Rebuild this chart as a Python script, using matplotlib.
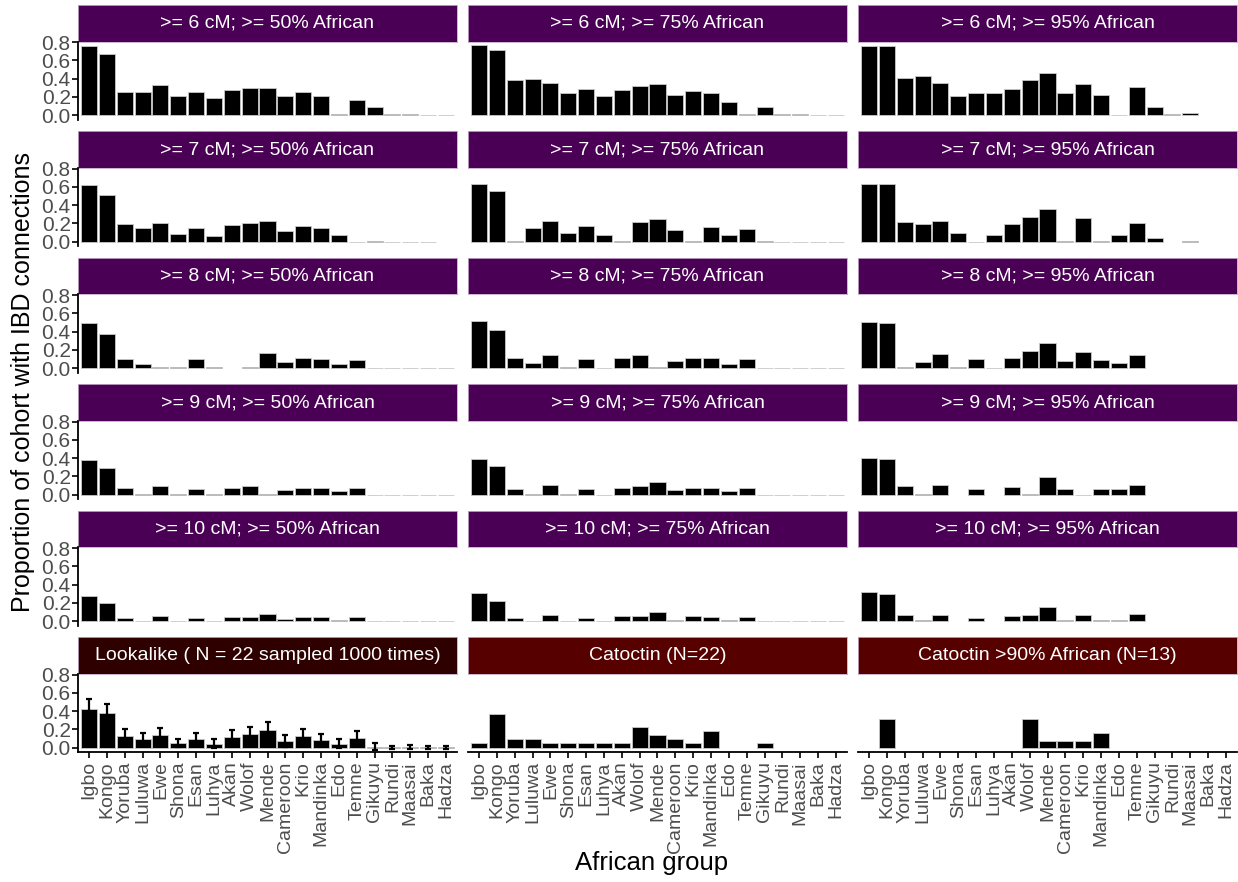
import numpy as np
import matplotlib
matplotlib.use('Agg')
import matplotlib.pyplot as plt

plt.rcParams['font.family'] = ['Liberation Sans', 'DejaVu Sans']

nan = np.nan
groups = ['Igbo', 'Kongo', 'Yoruba', 'Luluwa', 'Ewe', 'Shona', 'Esan', 'Luhya', 'Akan', 'Wolof',
          'Mende', 'Cameroon', 'Krio', 'Mandinka', 'Edo', 'Temne', 'Gikuyu', 'Rundi', 'Maasai',
          'Baka', 'Hadza']

# proportion of cohort with IBD connections, one list per facet
cm6_50 = [0.76, 0.67, 0.25, 0.25, 0.33, 0.21, 0.25, 0.19, 0.28, 0.30, 0.30, 0.21, 0.25, 0.21, 0.01, 0.17, 0.085, 0.01, 0.01, 0, 0]
cm6_75 = [0.77, 0.71, 0.39, 0.40, 0.35, 0.24, 0.29, 0.21, 0.28, 0.32, 0.34, 0.22, 0.27, 0.24, 0.14, 0.01, 0.09, 0.01, 0.01, 0, 0]
cm6_95 = [0.76, 0.76, 0.405, 0.43, 0.35, 0.21, 0.24, 0.24, 0.29, 0.39, 0.46, 0.24, 0.34, 0.22, 0.005, 0.31, 0.09, 0.01, 0.02, nan, nan]
cm7_50 = [0.62, 0.51, 0.19, 0.15, 0.21, 0.085, 0.155, 0.063, 0.18, 0.20, 0.225, 0.12, 0.17, 0.145, 0.074, 0, 0.01, 0, 0, 0, nan]
cm7_75 = [0.635, 0.56, 0.01, 0.145, 0.23, 0.09, 0.17, 0.07, 0.01, 0.215, 0.245, 0.125, 0.005, 0.16, 0.077, 0.14, 0.01, 0, 0, 0, 0]
cm7_95 = [0.635, 0.63, 0.22, 0.19, 0.23, 0.09, 0, 0.074, 0.19, 0.27, 0.355, 0.005, 0.26, 0.005, 0.077, 0.20, 0.04, nan, 0.01, nan, nan]
cm8_50 = [0.49, 0.37, 0.105, 0.048, 0.01, 0.01, 0.095, 0.01, nan, 0.01, 0.165, 0.066, 0.115, 0.095, 0.044, 0.09, 0.005, 0, 0, 0, 0]
cm8_75 = [0.515, 0.42, 0.11, 0.052, 0.145, 0.01, 0.10, 0, 0.11, 0.14, 0.01, 0.074, 0.11, 0.11, 0.048, 0.10, 0.005, 0, 0, 0, 0]
cm8_95 = [0.505, 0.50, 0.01, 0.066, 0.16, 0.01, 0.095, 0.005, 0.115, 0.185, 0.28, 0.08, 0.175, 0.085, 0.052, 0.145, nan, nan, nan, nan, nan]
cm9_50 = [0.38, 0.29, 0.07, 0.01, 0.095, 0.01, 0.06, 0.005, 0.077, 0.09, 0.005, 0.052, 0.074, 0.074, 0.04, 0.07, 0, 0, 0, 0, 0]
cm9_75 = [0.39, 0.31, 0.066, 0.01, 0.10, 0.005, 0.066, 0, 0.074, 0.09, 0.135, 0.052, 0.074, 0.074, 0.037, 0.074, 0, 0, 0, 0, 0]
cm9_95 = [0.40, 0.39, 0.09, 0.01, 0.10, nan, 0.066, nan, 0.085, 0.01, 0.19, 0.06, 0, 0.063, 0.063, 0.11, nan, nan, nan, nan, nan]
cm10_50 = [0.27, 0.20, 0.033, 0, 0.06, 0, 0.037, 0, 0.04, 0.04, 0.08, 0.026, 0.04, 0.04, 0.015, 0.04, 0, 0, 0, 0, 0]
cm10_75 = [0.31, 0.225, 0.033, 0, 0.066, 0, 0.037, 0, 0.06, 0.06, 0.10, 0.015, 0.06, 0.044, 0.01, 0.048, 0, 0, 0, 0, 0]
cm10_95 = [0.317, 0.30, 0.063, 0.01, 0.07, nan, 0.037, nan, 0.055, 0.07, 0.15, 0.015, 0.07, 0.015, 0.01, 0.074, nan, nan, nan, nan, nan]

lookalike_mean = [0.424, 0.373, 0.13, 0.092, 0.137, 0.048, 0.092, 0.044, 0.11, 0.144, 0.188, 0.074, 0.122, 0.085, 0.044, 0.103, 0.011, 0.003, 0.005, 0.002, 0.002]
lookalike_sd = [0.111, 0.107, 0.077, 0.063, 0.077, 0.044, 0.067, 0.048, 0.08, 0.081, 0.089, 0.063, 0.085, 0.066, 0.052, 0.074, 0.037, 0.017, 0.021, 0.016, 0.013]
catoctin = [0.045, 0.364, 0.091, 0.091, 0.045, 0.045, 0.045, 0.045, 0.045, 0.227, 0.136, 0.091, 0.045, 0.182, nan, nan, 0.045, nan, nan, nan, nan]
catoctin90 = [nan, 0.308, nan, nan, nan, nan, nan, nan, nan, 0.308, 0.077, 0.077, 0.077, 0.154, nan, nan, nan, nan, nan, nan, nan]

panels = [
    ('>= 6 cM; >= 50% African', cm6_50), ('>= 6 cM; >= 75% African', cm6_75), ('>= 6 cM; >= 95% African', cm6_95),
    ('>= 7 cM; >= 50% African', cm7_50), ('>= 7 cM; >= 75% African', cm7_75), ('>= 7 cM; >= 95% African', cm7_95),
    ('>= 8 cM; >= 50% African', cm8_50), ('>= 8 cM; >= 75% African', cm8_75), ('>= 8 cM; >= 95% African', cm8_95),
    ('>= 9 cM; >= 50% African', cm9_50), ('>= 9 cM; >= 75% African', cm9_75), ('>= 9 cM; >= 95% African', cm9_95),
    ('>= 10 cM; >= 50% African', cm10_50), ('>= 10 cM; >= 75% African', cm10_75), ('>= 10 cM; >= 95% African', cm10_95),
    ('Lookalike ( N = 22 sampled 1000 times)', lookalike_mean), ('Catoctin (N=22)', catoctin),
    ('Catoctin >90% African (N=13)', catoctin90),
]
strip_colors = ['#4a0055'] * 15 + ['#2e0000', '#560000', '#560000']

W, H = 1238, 882
fig = plt.figure(figsize=(W / 100, H / 100), dpi=100)

col_left = [78.3, 468.3, 858.3]
pw = 378.4
strip_h = 36.5
panel_h = 78.3
row_step = 126.46
x = np.arange(1, len(groups) + 1)
grey = '#4d4d4d'

for i, (title, vals) in enumerate(panels):
    r, c = divmod(i, 3)
    top = 5 + r * row_step
    left = col_left[c]
    # strip
    sax = fig.add_axes([left / W, 1 - (top + strip_h) / H, pw / W, strip_h / H])
    sax.set_facecolor(strip_colors[i])
    for s in sax.spines.values():
        s.set_color('#c4aac8')
        s.set_linewidth(0.6)
    sax.set_xticks([])
    sax.set_yticks([])
    sax.text(0.5, 0.5, title, color='white', fontsize=14, ha='center', va='center',
             transform=sax.transAxes)

    ax = fig.add_axes([left / W, 1 - (top + strip_h + panel_h) / H, pw / W, panel_h / H])
    v = np.array(vals, dtype=float)
    ok = ~np.isnan(v)
    ax.bar(x[ok], v[ok], width=0.9, color='black', edgecolor='#c8c8c8', linewidth=0.6)
    if i == 15:
        ax.errorbar(x, lookalike_mean, yerr=lookalike_sd, fmt='none', ecolor='black',
                    elinewidth=1.6, capsize=2, capthick=1.6)
    ax.set_xlim(0.4, len(groups) + 0.6)
    ax.set_ylim(-0.05, 0.808)
    ax.set_facecolor('none')
    for s in ['top', 'right']:
        ax.spines[s].set_visible(False)
    if c == 0:
        ax.spines['left'].set_linewidth(1.3)
        ax.set_yticks([0, 0.2, 0.4, 0.6, 0.8])
        ax.set_yticklabels(['0.0', '0.2', '0.4', '0.6', '0.8'])
        ax.tick_params(axis='y', length=4, width=1.2, labelsize=15, labelcolor=grey, pad=1.5)
    else:
        ax.spines['left'].set_visible(False)
        ax.set_yticks([])
    if r == 5:
        ax.spines['bottom'].set_linewidth(1.3)
        ax.set_xticks(x)
        ax.set_xticklabels(groups, rotation=90)
        ax.tick_params(axis='x', length=4, width=1.2, labelsize=14, labelcolor=grey, pad=2.5)
    else:
        ax.spines['bottom'].set_visible(False)
        ax.set_xticks([])

fig.text(23 / W, 1 - 382 / H, 'Proportion of cohort with IBD connections', rotation=90,
         ha='center', va='center', fontsize=18)
fig.text(652 / W, 1 - 863 / H, 'African group', ha='center', va='center', fontsize=18.5)

fig.savefig('out.png', dpi=100)
